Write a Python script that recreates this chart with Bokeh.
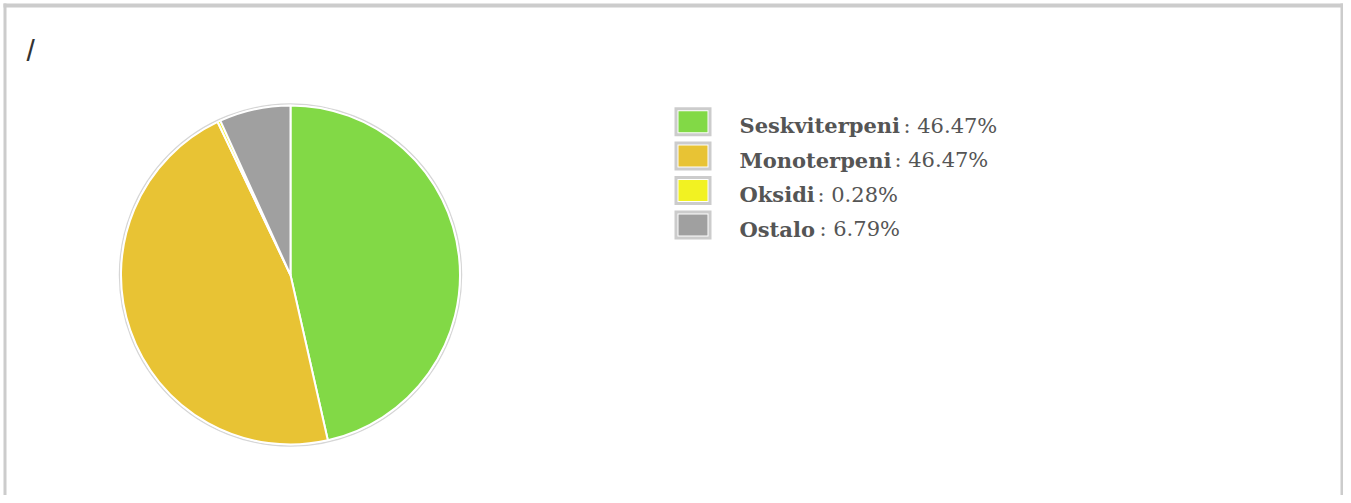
import numpy as np
from bokeh.plotting import figure
from bokeh.models import Range1d, ColumnDataSource
from bokeh.core.properties import value
from bokeh.embed import file_html
from bokeh.resources import INLINE

# ---- data ----
categories = ["Seskviterpeni", "Monoterpeni", "Oksidi", "Ostalo"]
percents = [46.47, 46.47, 0.28, 6.79]
value_labels = ["46.47%", "46.47%", "0.28%", "6.79%"]
colors = ["#82D946", "#E8C334", "#F2F222", "#A0A0A0"]
title_text = "/"

# ---- layout (image pixels -> data units, 1 unit = 1 px) ----
W, H = 1343, 495


def X(px):
    return px


def Y(py):
    return H - py


p = figure(width=W, height=H, x_range=Range1d(0, W), y_range=Range1d(0, H),
           output_backend="svg", toolbar_location=None,
           x_axis_location=None, y_axis_location=None, min_border=0,
           outline_line_color=None, background_fill_color="white",
           border_fill_color="white")
p.grid.visible = False

# outer frame (left, top, right)
p.quad(left=[3], right=[6], top=[Y(3)], bottom=[-20], fill_color="#CCCCCC", line_color=None)
p.quad(left=[3], right=[W], top=[Y(3)], bottom=[Y(7)], fill_color="#CCCCCC", line_color=None)
p.quad(left=[W - 3], right=[W], top=[Y(3)], bottom=[-20], fill_color="#CCCCCC", line_color=None)

# title
p.text(x=[X(26)], y=[Y(50)], text=[title_text],
       text_font=value("Liberation Sans"), text_font_size="30px",
       text_color="#333333", text_baseline="alphabetic", text_align="left")

# pie
cx, cy, r = X(290), Y(274.5), 169.5
frac = np.array(percents) / np.sum(percents)
ends = np.cumsum(frac)
starts = ends - frac
src = ColumnDataSource(dict(
    start=np.pi / 2 - 2 * np.pi * starts,
    end=np.pi / 2 - 2 * np.pi * ends,
    color=colors,
    cat=categories,
))
p.circle(x=[cx], y=[cy], radius=r + 1.5, fill_color=None,
         line_color="#BBBBBB", line_alpha=0.6, line_width=1.5)
p.wedge(x=cx, y=cy, radius=r, start_angle="start", end_angle="end",
        direction="clock", fill_color="color", line_color="white",
        line_width=2, source=src)

# legend
n = len(categories)
row_step = 34.4
box_y = [Y(121.2 + row_step * i) for i in range(n)]
base_y = [Y(125.3 + row_step * i) for i in range(n)]
bx = X(692.5)
p.rect(x=[bx] * n, y=box_y, width=37, height=29, fill_color="#CCCCCC", line_color=None)
p.rect(x=[bx] * n, y=box_y, width=31, height=23, fill_color="white", line_color=None)
p.rect(x=[bx] * n, y=box_y, width=29, height=21, fill_color=colors, line_color=None)

p.text(x=[X(739)] * n, y=base_y, text=categories,
       text_font=value("DejaVu Serif"), text_font_style="bold",
       text_font_size="21px", text_color="#555555",
       text_baseline="alphabetic", text_align="left")
value_x = [X(903), X(894), X(817), X(819)]
p.text(x=value_x, y=base_y, text=[": " + v for v in value_labels],
       text_font=value("DejaVu Serif"), text_font_size="21px",
       text_color="#555555", text_baseline="alphabetic", text_align="left")

open("out.html", "w").write(file_html(p, INLINE))
